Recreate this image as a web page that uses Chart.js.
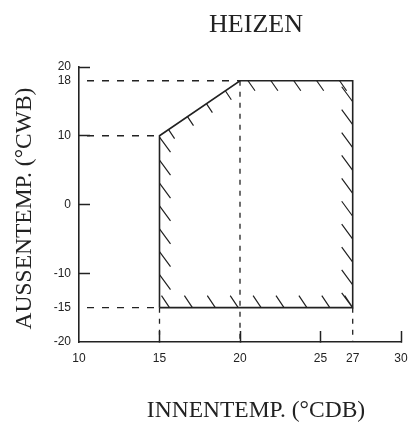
<!DOCTYPE html>
<html>
<head>
<meta charset="utf-8">
<script src="https://cdn.jsdelivr.net/npm/chart.js@4"></script>
<style>
  html, body { margin: 0; padding: 0; background: #fff; }
  canvas { display: block; }
</style>
</head>
<body>
<canvas id="chart" width="409" height="424"></canvas>
<script>
// operating zone (outline, in data units)
const zoneX = [15, 15, 20, 27, 27, 15];
const zoneY = [-15, 10, 18, 18, -15, -15];

// dashed guides: from the y axis across to the zone
const hGuideY = [18, 10, -15];
const hGuideToX = [20, 15, 15];
// dashed guides: from the zone down to the x axis
const vGuideX = [15, 20, 27];
const vGuideFromY = [-15, 18, -15];

const xTickLabels = [10, 15, 20, 25, 27, 30];
const yTickLabels = [20, 18, 10, 0, -10, -15, -20];
const xTickMarks = [15, 20, 25, 30];
const yTickMarks = [20, 10, 0, -10];

const chartTitle = 'HEIZEN';
const xTitle = 'INNENTEMP. (°CDB)';
const yTitle = 'AUSSENTEMP. (°CWB)';

const X_MIN = 10, X_MAX = 30, Y_MIN = -20, Y_MAX = 20;
const INK = '#222';
const NONE = 'rgba(0,0,0,0)';

// one entry per outline edge, in the order of zoneX / zoneY
const hatchEdges = [
    { start: 33, size: [11, 15], onEnd: false },
    { start: 11, size: [6, 9], onEnd: false },
    { start: 8, size: [7, 10], onEnd: false },
    { start: 21, size: [11, 15], onEnd: true },
    { start: 0, size: [8, 12], onEnd: true }
];
const HATCH_STEP = 22.9;

const datasets = [];

datasets.push({
    data: zoneX.map((x, i) => ({ x: x, y: zoneY[i] })),
    borderColor: INK,
    borderWidth: 1.6,
    showLine: true,
    pointRadius: 0
});

hGuideY.forEach((y, i) => {
    datasets.push({
        data: [{ x: X_MIN, y: y }, { x: hGuideToX[i], y: y }],
        borderColor: INK,
        borderWidth: 1.3,
        borderDash: [7, 8],
        borderDashOffset: 7,
        showLine: true,
        pointRadius: 0
    });
});

vGuideX.forEach((x, i) => {
    datasets.push({
        data: [{ x: x, y: vGuideFromY[i] }, { x: x, y: Y_MIN }],
        borderColor: INK,
        borderWidth: 1.3,
        borderDash: [5, 6],
        showLine: true,
        pointRadius: 0
    });
});

const hatchPlugin = {
    id: 'hatch',
    afterDatasetsDraw(chart) {
        const { ctx, scales } = chart;
        const pts = zoneX.map((x, i) => [scales.x.getPixelForValue(x), scales.y.getPixelForValue(zoneY[i])]);

        ctx.save();
        ctx.beginPath();
        pts.forEach((p, i) => (i === 0 ? ctx.moveTo(p[0], p[1]) : ctx.lineTo(p[0], p[1])));
        ctx.closePath();
        ctx.clip();

        ctx.strokeStyle = INK;
        ctx.lineWidth = 1.2;
        ctx.beginPath();
        hatchEdges.forEach((edge, i) => {
            const a = pts[i];
            const b = pts[i + 1];
            const len = Math.hypot(b[0] - a[0], b[1] - a[1]);
            const [dx, dy] = edge.size;
            for (let t = edge.start; t <= len + 0.5; t += HATCH_STEP) {
                const px = a[0] + (b[0] - a[0]) * t / len;
                const py = a[1] + (b[1] - a[1]) * t / len;
                if (edge.onEnd) {
                    ctx.moveTo(px - dx, py - dy);
                    ctx.lineTo(px, py);
                } else {
                    ctx.moveTo(px, py);
                    ctx.lineTo(px + dx, py + dy);
                }
            }
        });
        ctx.stroke();
        ctx.restore();
    }
};

const titlesPlugin = {
    id: 'titles',
    afterDraw(chart) {
        const ctx = chart.ctx;
        const area = chart.chartArea;
        const cx = area.left + 177;

        ctx.save();
        ctx.fillStyle = INK;
        ctx.textAlign = 'center';
        ctx.textBaseline = 'middle';

        ctx.font = '26px "Liberation Serif"';
        ctx.fillText(chartTitle, cx, 25);

        ctx.font = '23.5px "Liberation Serif"';
        ctx.fillText(xTitle, cx, area.bottom + 69);

        ctx.translate(25, (area.top + area.bottom) / 2 + 4);
        ctx.rotate(-Math.PI / 2);
        ctx.fillText(yTitle, 0, 0);
        ctx.restore();
    }
};

const tickFont = { family: '"Liberation Sans", Arial, sans-serif', size: 12 };

new Chart(document.getElementById('chart'), {
    type: 'scatter',
    data: { datasets: datasets },
    options: {
        responsive: false,
        animation: false,
        layout: { padding: { top: 67, right: 8, bottom: 0, left: 0 } },
        plugins: {
            legend: { display: false },
            title: { display: false },
            tooltip: { enabled: false }
        },
        scales: {
            x: {
                type: 'linear',
                min: X_MIN,
                max: X_MAX,
                afterBuildTicks: scale => {
                    scale.ticks = xTickLabels.map(v => ({ value: v }));
                },
                afterFit: scale => {
                    scale.height = 82;
                    scale.paddingLeft = 0;
                    scale.paddingRight = 0;
                },
                ticks: {
                    autoSkip: false,
                    maxRotation: 0,
                    padding: 20,
                    color: INK,
                    font: tickFont
                },
                grid: {
                    drawOnChartArea: false,
                    tickLength: -11,
                    tickWidth: 1.5,
                    tickColor: ctx => (ctx.tick && xTickMarks.includes(ctx.tick.value) ? INK : NONE)
                },
                border: { color: INK, width: 1.6 }
            },
            y: {
                type: 'linear',
                min: Y_MIN,
                max: Y_MAX,
                afterBuildTicks: scale => {
                    scale.ticks = yTickLabels.map(v => ({ value: v }));
                },
                afterFit: scale => {
                    scale.width = 79;
                    scale.paddingTop = 0;
                    scale.paddingBottom = 0;
                },
                ticks: {
                    autoSkip: false,
                    padding: 19,
                    color: INK,
                    font: tickFont
                },
                grid: {
                    drawOnChartArea: false,
                    tickLength: -11,
                    tickWidth: 1.5,
                    tickColor: ctx => (ctx.tick && yTickMarks.includes(ctx.tick.value) ? INK : NONE)
                },
                border: { color: INK, width: 1.6 }
            }
        }
    },
    plugins: [hatchPlugin, titlesPlugin]
});
</script>
</body>
</html>
